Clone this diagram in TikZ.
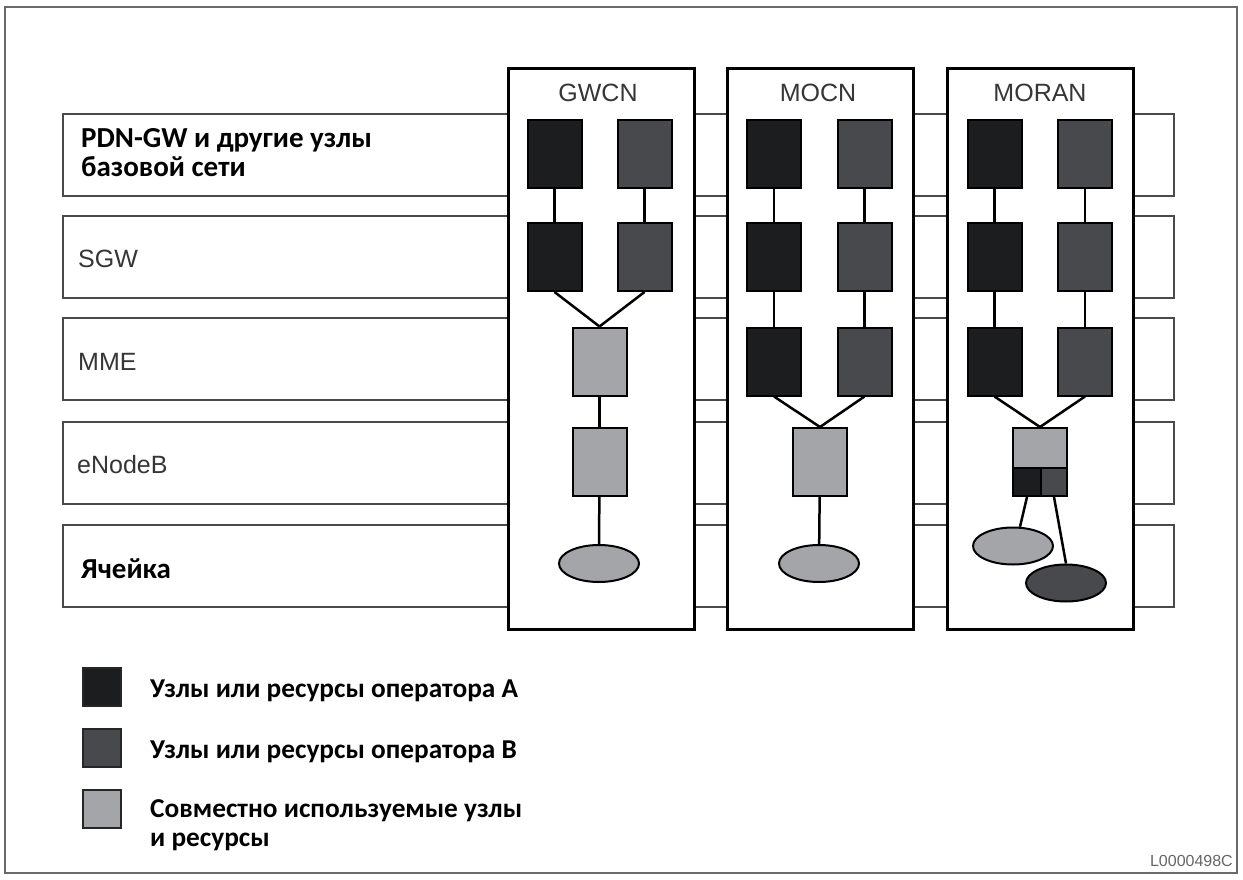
\documentclass[tikz,border=0pt]{standalone}
\usepackage{fontspec}
\setmainfont{Carlito}
\newfontfamily\arialf{Liberation Sans}
\usetikzlibrary{shapes.geometric}

\definecolor{opA}{HTML}{1C1D1F}
\definecolor{opB}{HTML}{48494C}
\definecolor{shared}{HTML}{A3A5A8}
\definecolor{labelgray}{HTML}{363636}
\definecolor{framegray}{HTML}{6A6A6A}
\definecolor{rowline}{HTML}{4A4A4A}

\begin{document}
\begin{tikzpicture}[x=1pt,y=-1pt,
  layerbox/.style={rectangle, draw=rowline, line width=2pt, fill=white, anchor=north west,
    inner sep=0pt, minimum width=1111pt, minimum height=82pt},
  column/.style={rectangle, draw=black, line width=2.6pt, fill=white, anchor=north west,
    inner sep=0pt, minimum width=186pt, minimum height=561pt},
  unit/.style={rectangle, draw=black, line width=2pt, inner sep=0pt, minimum width=54pt, minimum height=68pt},
  unitA/.style={unit, fill=opA},
  unitB/.style={unit, fill=opB},
  unitS/.style={unit, fill=shared},
  cell/.style={ellipse, draw=black, line width=2pt, inner sep=0pt, minimum width=80pt, minimum height=37pt},
  link/.style={draw=black, line width=2.5pt},
  graylabel/.style={anchor=base west, inner sep=0pt, text=labelgray, font=\arialf\fontsize{25}{29}\selectfont},
  boldlabel/.style={anchor=base west, inner sep=0pt, text=black, font=\bfseries\fontsize{29}{28.5}\selectfont},
  header/.style={anchor=base, inner sep=0pt, text=labelgray, font=\arialf\fontsize{25}{29}\selectfont},
  keybox/.style={rectangle, draw=black!85, line width=2pt, inner sep=0pt, minimum size=38pt},
  keytext/.style={anchor=base west, inner sep=0pt, text=black, font=\bfseries\fontsize{27.3}{29}\selectfont},
]
\useasboundingbox (0,0) rectangle (1243,880);
\fill[white] (0,0) rectangle (1243,880);
\draw[framegray, line width=2pt] (5,7) rectangle (1237,873);

% network layers
\node[layerbox] (r1) at (62,113) {};
\node[layerbox] (r2) at (62,215) {};
\node[layerbox] (r3) at (62,317) {};
\node[layerbox] (r4) at (62,421) {};
\node[layerbox] (r5) at (62,524) {};

\node[boldlabel] (t1) at (81,148) {\begin{tabular}[t]{@{}l@{}}PDN-GW и другие узлы\\базовой сети\end{tabular}};
\node[graylabel] (t2) at (78,267) {SGW};
\node[graylabel] (t3) at (78,370) {MME};
\node[graylabel] (t4) at (77,473) {eNodeB};
\node[boldlabel] (t5) at (81,578) {Ячейка};

% sharing scenarios
\node[column] (gwcn) at (507,67) {};
\node[column] (mocn) at (726,67) {};
\node[column] (moran) at (946,67) {};
\node[header] (gwcnT) at (598,102) {GWCN};
\node[header] (mocnT) at (818,102) {MOCN};
\node[header] (moranT) at (1040,102) {MORAN};

% GWCN: shared MME and eNodeB
\node[unitA] (g1a) at (554.5,154) {};
\node[unitB] (g1b) at (644.5,154) {};
\node[unitA] (g2a) at (554.5,257) {};
\node[unitB] (g2b) at (644.5,257) {};
\node[unitS] (g3) at (599.5,361.5) {};
\node[unitS] (g4) at (599.5,462) {};
\node[cell, fill=shared] (gc) at (599,563.5) {};
\draw[link] (g1a) -- (g2a);
\draw[link] (g1b) -- (g2b);
\draw[link] (g2a.south) -- (g3.north);
\draw[link] (g2b.south) -- (g3.north);
\draw[link] (g3) -- (g4);
\draw[link] (g4) -- (gc);

% MOCN: shared eNodeB
\node[unitA] (m1a) at (774,154) {};
\node[unitB] (m1b) at (864.5,154) {};
\node[unitA] (m2a) at (774,257) {};
\node[unitB] (m2b) at (864.5,257) {};
\node[unitA] (m3a) at (774,361.5) {};
\node[unitB] (m3b) at (864.5,361.5) {};
\node[unitS] (m4) at (820,462) {};
\node[cell, fill=shared] (mc) at (819,563.5) {};
\draw[link] (m1a) -- (m2a);
\draw[link] (m1b) -- (m2b);
\draw[link] (m2a) -- (m3a);
\draw[link] (m2b) -- (m3b);
\draw[link] (m3a.south) -- (m4.north);
\draw[link] (m3b.south) -- (m4.north);
\draw[link] (m4) -- (mc);

% MORAN: shared eNodeB hardware, separate carriers
\node[unitA] (n1a) at (994.5,154) {};
\node[unitB] (n1b) at (1085,154) {};
\node[unitA] (n2a) at (994.5,257) {};
\node[unitB] (n2b) at (1085,257) {};
\node[unitA] (n3a) at (994.5,361.5) {};
\node[unitB] (n3b) at (1085,361.5) {};
\node[unitS] (n4) at (1040,462) {};
\node[rectangle, draw=black, line width=2pt, fill=opA, inner sep=0pt, minimum width=28pt,
  minimum height=28pt, anchor=south west] (n4a) at (n4.south west) {};
\node[rectangle, draw=black, line width=2pt, fill=opB, inner sep=0pt, minimum width=26pt,
  minimum height=28pt, anchor=south east] (n4b) at (n4.south east) {};
\node[cell, fill=shared] (nca) at (1013,546) {};
\node[cell, fill=opB] (ncb) at (1066,583) {};
\draw[link] (n1a) -- (n2a);
\draw[link] (n1b) -- (n2b);
\draw[link] (n2a) -- (n3a);
\draw[link] (n2b) -- (n3b);
\draw[link] (n3a.south) -- (n4.north);
\draw[link] (n3b.south) -- (n4.north);
\draw[link] (n4a.south) -- (nca.70);
\draw[link] (n4b.south) -- (ncb.north);

% legend
\node[keybox, fill=opA] (k1) at (102,687) {};
\node[keybox, fill=opB] (k2) at (102,748) {};
\node[keybox, fill=shared] (k3) at (102,809) {};
\node[keytext] (k1T) at (150,697) {Узлы или ресурсы оператора А};
\node[keytext] (k2T) at (150,758) {Узлы или ресурсы оператора В};
\node[keytext] (k3T) at (150,817) {\begin{tabular}[t]{@{}l@{}}Совместно используемые узлы\\и ресурсы\end{tabular}};

\node[anchor=base east, inner sep=0pt, text=black!60, font=\arialf\fontsize{16}{18}\selectfont] (code) at (1233,866) {L0000498C};
\end{tikzpicture}
\end{document}
